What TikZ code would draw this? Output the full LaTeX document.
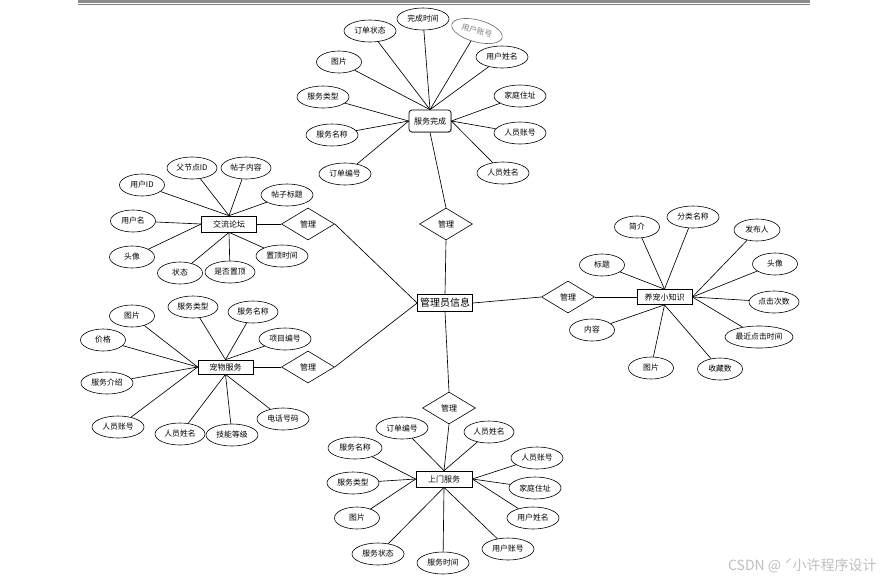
\documentclass[tikz,border=0pt]{standalone}
\usepackage{fontspec}
\setmainfont{Noto Sans CJK SC}
\usetikzlibrary{shapes.geometric,shadows}
\tikzset{
  attr/.style={ellipse, draw, fill=white, line width=0.6pt, minimum width=52pt,
    minimum height=22pt, inner sep=0pt, font=\fontsize{7.8}{8}\selectfont},
  attrs/.style={attr, minimum width=45pt},
  ent/.style={draw, fill=white, line width=0.7pt, minimum width=55pt, minimum height=16pt,
    inner sep=1pt, font=\fontsize{8}{9}\selectfont,
    general shadow={fill=gray!55, shadow xshift=0.9pt, shadow yshift=-0.9pt}},
  rel/.style={diamond, draw, fill=white, line width=0.6pt, minimum width=53pt,
    minimum height=32pt, inner sep=0pt, font=\fontsize{8}{9}\selectfont}
}
\begin{document}
\begin{tikzpicture}[x=1pt,y=-1pt,line width=0.65pt]
\useasboundingbox (0,0) rectangle (881,582);
% top rule
\fill[gray!90] (78,0) rectangle (810,3.2);
\draw[gray, line width=0.8pt] (78,4.4) -- (810,4.4);

% entities
\node[draw, fill=white, minimum width=55pt, minimum height=17pt, inner sep=1pt,
  font=\fontsize{10}{11}\selectfont] (admin) at (445,303) {管理员信息};
\node[ent, rounded corners=3pt, minimum width=42pt, minimum height=22pt] (fw) at (430,121) {服务完成};
\node[ent] (lt) at (229,224) {交流论坛};
\node[ent, minimum height=14pt] (cw) at (225.5,367) {宠物服务};
\node[ent, minimum width=56pt] (sm) at (444,479) {上门服务};
\node[ent, minimum height=15pt] (zs) at (664.5,297) {养宠小知识};

% relations
\node[rel] (gTop) at (446,224) {管理};
\node[rel] (gLt) at (308,224) {管理};
\node[rel] (gCw) at (308,367) {管理};
\node[rel] (gZs) at (568,297) {管理};
\node[rel] (gSm) at (449,408) {管理};

% 服务完成
\node[attr] (fa1) at (370,31) {订单状态};
\node[attr] (fa2) at (423,19) {完成时间};
\node[attr, rotate=-15, draw=gray!80!black, text=gray] (fa3) at (477,31) {用户账号};
\node[attr] (fa4) at (502,57) {用户姓名};
\node[attrs] (fa5) at (339,62) {图片};
\node[attr] (fa6) at (323,97) {服务类型};
\node[attr] (fa7) at (520,96) {家庭住址};
\node[attr] (fa8) at (332,135) {服务名称};
\node[attr] (fa9) at (520,133) {人员账号};
\node[attr] (fa10) at (345,174) {订单编号};
\node[attr] (fa11) at (503,173) {人员姓名};

% 交流论坛
\node[attrs] (la1) at (142,185) {用户ID};
\node[attr, minimum width=50pt] (la2) at (192,168) {父节点ID};
\node[attr, minimum width=50pt] (la3) at (246,168) {帖子内容};
\node[attr] (la4) at (287,195) {帖子标题};
\node[attrs] (la5) at (133,221) {用户名};
\node[attrs] (la6) at (132,257) {头像};
\node[attrs] (la7) at (180,273) {状态};
\node[attr, minimum width=50pt] (la8) at (230,272) {是否置顶};
\node[attr] (la9) at (282,256) {置顶时间};

% 宠物服务
\node[attrs] (ca1) at (132,316) {图片};
\node[attr, minimum width=50pt] (ca2) at (193,307) {服务类型};
\node[attr, minimum width=50pt] (ca3) at (253,312) {服务名称};
\node[attr] (ca4) at (285,339) {项目编号};
\node[attrs] (ca5) at (103,340) {价格};
\node[attr] (ca6) at (107,383) {服务介绍};
\node[attr] (ca7) at (118,427) {人员账号};
\node[attr, minimum width=50pt] (ca8) at (180,434) {人员姓名};
\node[attr] (ca9) at (232,435) {技能等级};
\node[attr] (ca10) at (283,419) {电话号码};

% 上门服务
\node[attr] (sa1) at (402,428) {订单编号};
\node[attr, minimum width=50pt] (sa2) at (489,432) {人员姓名};
\node[attr, minimum width=54pt] (sa3) at (355,448) {服务名称};
\node[attr] (sa4) at (537,458) {人员账号};
\node[attr] (sa5) at (353,483) {服务类型};
\node[attr] (sa6) at (535,488) {家庭住址};
\node[attrs] (sa7) at (357,518) {图片};
\node[attr] (sa8) at (533,518) {用户姓名};
\node[attr] (sa9) at (378,554) {服务状态};
\node[attr] (sa10) at (443,563) {服务时间};
\node[attr] (sa11) at (508,549) {用户账号};

% 养宠小知识
\node[attrs] (za1) at (637,227) {简介};
\node[attr] (za2) at (693,217) {分类名称};
\node[attrs, minimum width=46pt] (za3) at (757,230) {发布人};
\node[attrs] (za4) at (602,265) {标题};
\node[attrs] (za5) at (775,264) {头像};
\node[attr, minimum width=50pt] (za6) at (774,302) {点击次数};
\node[attrs] (za7) at (592,330) {内容};
\node[attr, minimum width=68pt] (za8) at (759,337) {最近点击时间};
\node[attrs] (za9) at (651,368) {图片};
\node[attrs] (za10) at (720,369) {收藏数};

% attribute links
\foreach \a/\b in {fa1/north,fa2/north,fa3/north,fa4/north,fa5/north,fa6/west,
  fa7/east,fa8/west,fa9/east,fa10/west,fa11/east}
  \draw (\a) -- (fw.\b);
\foreach \a/\b in {la1/north,la2/north,la3/north,la4/north,la5/west,la6/west,
  la7/south,la8/south,la9/south}
  \draw (\a) -- (lt.\b);
\foreach \a/\b in {ca1/west,ca2/north,ca3/north,ca4/north,ca5/west,ca6/west,
  ca7/west,ca8/south,ca9/south,ca10/south}
  \draw (\a) -- (cw.\b);
\foreach \a/\b in {sa1/north,sa2/north,sa3/west,sa4/east,sa5/west,sa6/east,
  sa7/west,sa8/east,sa9/south,sa10/south,sa11/south}
  \draw (\a) -- (sm.\b);
\foreach \a/\b in {za1/north,za2/north,za3/east,za4/north,za5/east,za6/east,
  za7/south,za8/east,za9/south,za10/south}
  \draw (\a) -- (zs.\b);

% relation links
\draw (fw.south) -- (gTop.north);
\draw (gTop.south) -- (admin.north);
\draw (lt.east) -- (gLt.west);
\draw (gLt.east) -- (admin.west);
\draw (cw.east) -- (gCw.west);
\draw (gCw.east) -- (admin.west);
\draw (admin.east) -- (gZs.west);
\draw (gZs.east) -- (zs.west);
\draw (admin.south) -- (gSm.north);
\draw (gSm.south) -- (sm.north);

\node[anchor=east, text=gray!50, inner sep=0pt, font=\fontsize{14}{15}\selectfont]
  (mark) at (877,566) {CSDN @ ˊ小许程序设计};
\end{tikzpicture}
\end{document}
